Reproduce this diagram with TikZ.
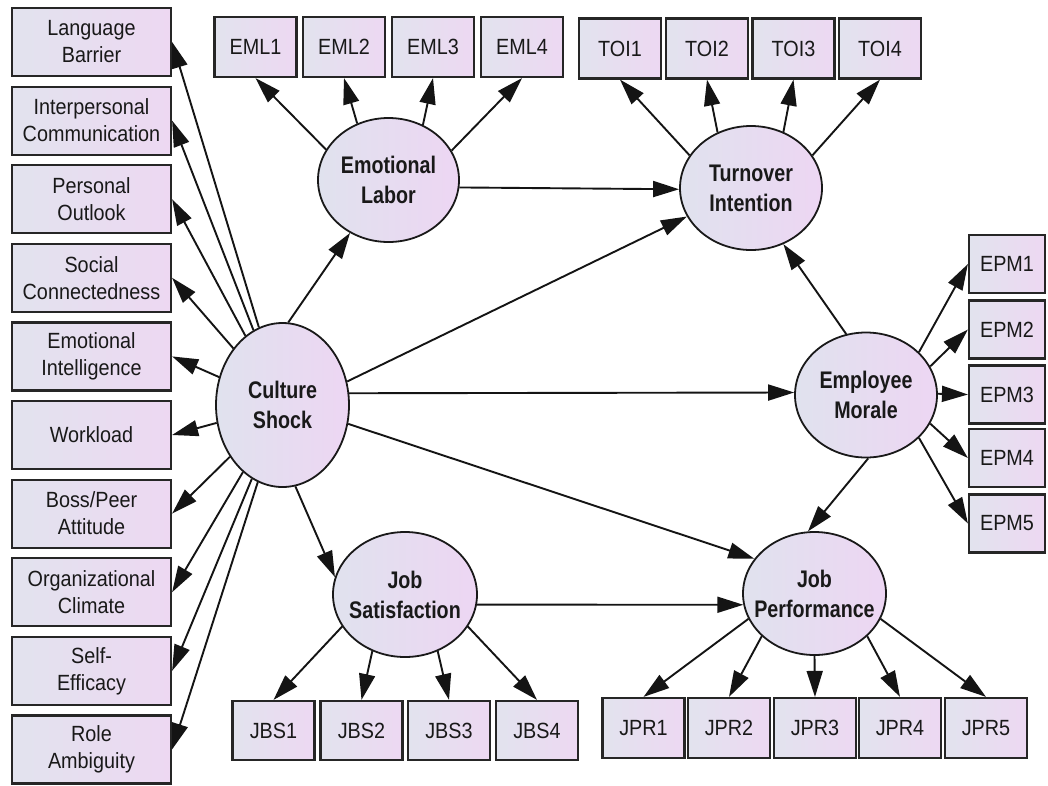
\documentclass[tikz,border=0pt]{standalone}
\usepackage{fontspec}
\setmainfont{Liberation Sans}
\newfontfamily\obsfont{Liberation Sans}[FakeStretch=0.9]
\newfontfamily\latfont{Liberation Sans Bold}[FakeStretch=0.82]
\usetikzlibrary{shapes.geometric,arrows.meta}
\definecolor{boxL}{RGB}{226,227,238}
\definecolor{boxR}{RGB}{237,216,242}
\definecolor{latL}{RGB}{224,226,238}
\definecolor{latR}{RGB}{237,214,243}
\begin{document}
\begin{tikzpicture}[x=1pt,y=-1pt,
  obs/.style={rectangle, draw=black!85, line width=2.2pt, left color=boxL, right color=boxR,
    inner sep=0pt, font=\obsfont\fontsize{22}{27}\selectfont, align=center, text=black!90},
  leftbox/.style={obs, minimum width=159pt, minimum height=68pt},
  ind/.style={obs, minimum width=82pt, minimum height=60pt},
  epmbox/.style={obs, minimum width=76pt, minimum height=58pt},
  lat/.style={ellipse, draw=black!90, line width=1.8pt, left color=latL, right color=latR, inner sep=0pt},
  lattext/.style={font=\latfont\fontsize{24}{30}\selectfont, align=center, text=black!90},
  arr/.style={line width=1.9pt, draw=black!92, -{Triangle[length=26pt,width=16pt]}}
]
\fill[white] (0,0) rectangle (1048,785);
\useasboundingbox (0,0) rectangle (1048,785);

% left column
\node[leftbox] (lb) at (91.5,42) {Language\\Barrier};
\node[leftbox] (ic) at (91.5,120.6) {Interpersonal\\Communication};
\node[leftbox] (po) at (91.5,199.2) {Personal\\Outlook};
\node[leftbox] (sc) at (91.5,277.8) {Social\\Connectedness};
\node[leftbox] (ei) at (91.5,356.4) {Emotional\\Intelligence};
\node[leftbox] (wl) at (91.5,435) {Workload};
\node[leftbox] (bp) at (91.5,513.6) {Boss/Peer\\Attitude};
\node[leftbox] (oc) at (91.5,592.2) {Organizational\\Climate};
\node[leftbox] (se) at (91.5,670.8) {Self-\\Efficacy};
\node[leftbox] (ra) at (91.5,749.4) {Role\\Ambiguity};

% indicators
\node[ind] (eml1) at (255.5,47) {EML1};
\node[ind] (eml2) at (344,47) {EML2};
\node[ind] (eml3) at (433,47) {EML3};
\node[ind] (eml4) at (522,47) {EML4};
\node[ind] (toi1) at (620,48.5) {TOI1};
\node[ind] (toi2) at (707,48.5) {TOI2};
\node[ind] (toi3) at (793.5,48.5) {TOI3};
\node[ind] (toi4) at (880,48.5) {TOI4};
\node[epmbox] (epm1) at (1007,264) {EPM1};
\node[epmbox] (epm2) at (1007,329.5) {EPM2};
\node[epmbox] (epm3) at (1007,394.5) {EPM3};
\node[epmbox] (epm4) at (1007,458) {EPM4};
\node[epmbox] (epm5) at (1007,523.5) {EPM5};
\node[ind, minimum height=59pt] (jbs1) at (273.5,730.5) {JBS1};
\node[ind, minimum height=59pt] (jbs2) at (361.5,730.5) {JBS2};
\node[ind, minimum height=59pt] (jbs3) at (449,730.5) {JBS3};
\node[ind, minimum height=59pt] (jbs4) at (537,730.5) {JBS4};
\node[ind] (jpr1) at (643.5,728) {JPR1};
\node[ind] (jpr2) at (729,728) {JPR2};
\node[ind] (jpr3) at (815,728) {JPR3};
\node[ind] (jpr4) at (900,728) {JPR4};
\node[ind] (jpr5) at (986,728) {JPR5};

% latent variables
\node[lat, minimum width=133pt, minimum height=164pt, label={[lattext]center:Culture\\Shock}] (cs) at (282.5,405) {};
\node[lat, minimum width=141pt, minimum height=124pt, label={[lattext]center:Emotional\\Labor}] (el) at (388.5,180) {};
\node[lat, minimum width=142pt, minimum height=124pt, label={[lattext]center:Turnover\\Intention}] (ti) at (751,188) {};
\node[lat, minimum width=142pt, minimum height=125pt, label={[lattext]center:Employee\\Morale}] (em) at (866,395) {};
\node[lat, minimum width=144pt, minimum height=125pt, label={[lattext]center:Job\\Satisfaction}] (js) at (405,594.5) {};
\node[lat, minimum width=143pt, minimum height=123pt, label={[lattext]center:Job\\Performance}] (jp) at (814.5,593.5) {};

% culture shock to its indicators
\foreach \b in {lb,ic,po,sc,ei,wl,bp,oc,se,ra}
  \draw[arr] (cs) -- (\b.east);

% structural paths
\draw[arr] (cs.86) -- (el.-126.5);
\draw[arr] (el.-6) -- (ti.181.6);
\draw[arr] (cs.20.9) -- (ti.204);
\draw[arr] (cs.10.2) -- (em.178);
\draw[arr] (cs.-16.2) -- (jp.150.6);
\draw[arr] (cs.-81.2) -- (js.166.4);
\draw[arr] (em.108.7) -- (ti.-60.6);
\draw[arr] (em.-88) -- (jp.96);
\draw[arr] (js.-8.4) -- (jp.189.4);

% measurement paths
\draw[arr] (el.154.7) -- (eml1.south);
\draw[arr] (el.119.8) -- (eml2.south);
\draw[arr] (el.58.7) -- (eml3.south);
\draw[arr] (el.25.3) -- (eml4.south);
\draw[arr] (ti.152.4) -- (toi1.south);
\draw[arr] (ti.121.3) -- (toi2.south);
\draw[arr] (ti.60.3) -- (toi3.south);
\draw[arr] (ti.28.4) -- (toi4.south);
\draw[arr] (em.39.8) -- (epm1.west);
\draw[arr] (em.24.8) -- (epm2.west);
\draw[arr] (em.1) -- (epm3.west);
\draw[arr] (em.-24.8) -- (epm4.west);
\draw[arr] (em.-39) -- (epm5.west);
\draw[arr] (js.207.3) -- (jbs1.north);
\draw[arr] (js.240.1) -- (jbs2.north);
\draw[arr] (js.-60) -- (jbs3.north);
\draw[arr] (js.-27.7) -- (jbs4.north);
\draw[arr] (jp.201.7) -- (jpr1.north);
\draw[arr] (jp.219.6) -- (jpr2.north);
\draw[arr] (jp.-90) -- (jpr3.north);
\draw[arr] (jp.-39.6) -- (jpr4.north);
\draw[arr] (jp.-21.4) -- (jpr5.north);
\end{tikzpicture}
\end{document}
